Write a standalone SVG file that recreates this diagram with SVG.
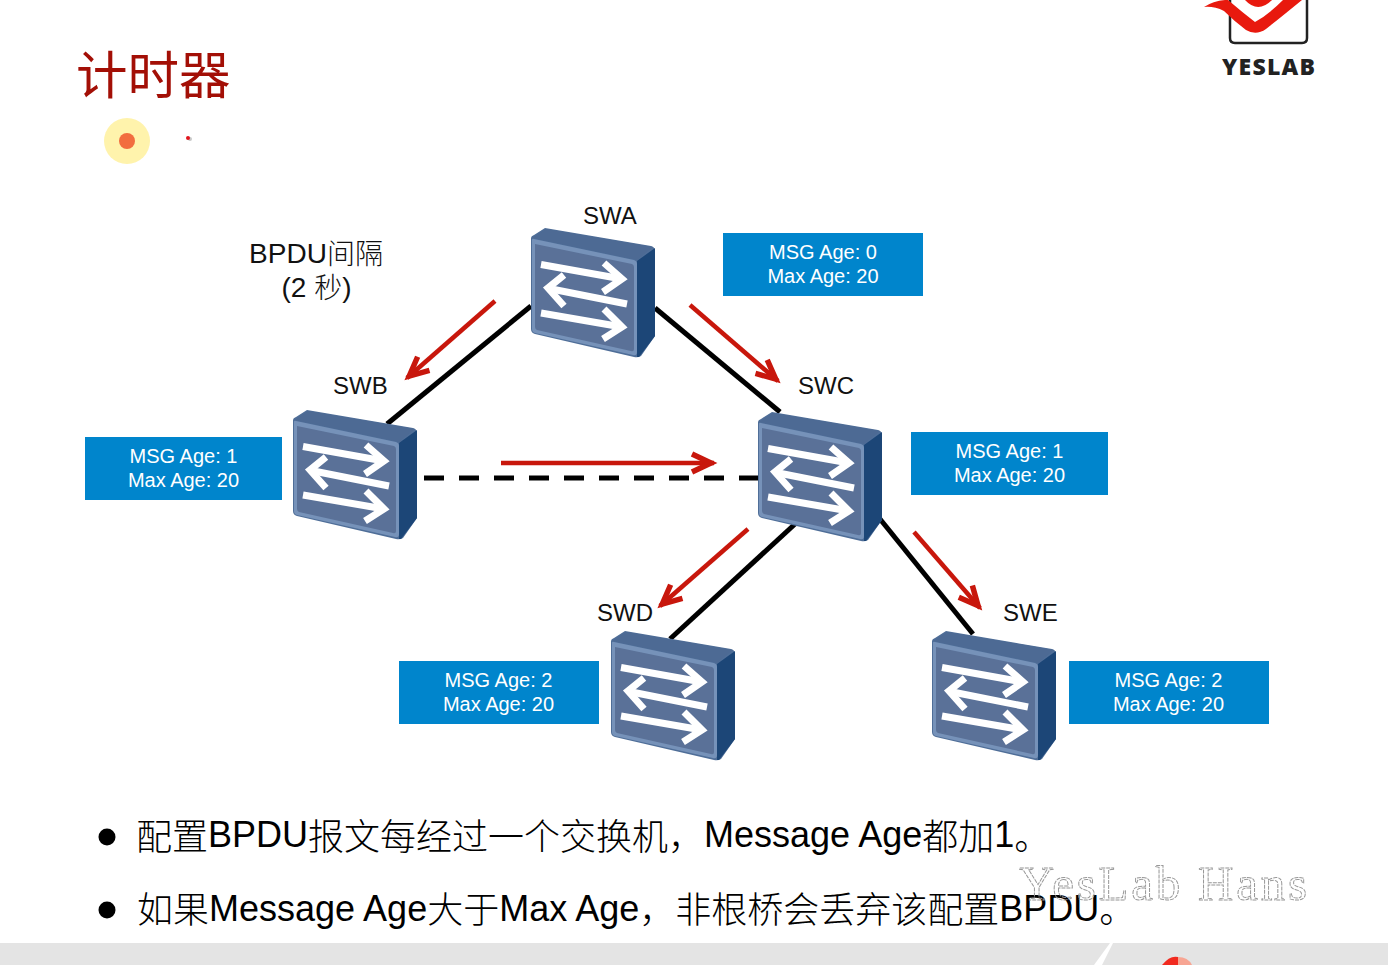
<svg xmlns="http://www.w3.org/2000/svg" width="1388" height="965" viewBox="0 0 1388 965">
<style>
.lab{font-family:"Liberation Sans",Arial,sans-serif;font-size:24px;fill:#111}
.box{fill:#0085cc}
.bt{font-family:"Liberation Sans",Arial,sans-serif;font-size:20px;fill:#fff;text-anchor:middle}
.bul{font-family:"Liberation Sans","Noto Sans CJK SC",sans-serif;font-size:36px;fill:#000;font-weight:300}
.link{stroke:#000;stroke-width:5;fill:none}
.red{stroke:#c8170c;stroke-width:4.500;fill:none}
.wa{stroke:#fff;stroke-width:7;fill:none}
</style>
<defs>
<marker id="ah" markerUnits="userSpaceOnUse" markerWidth="32" markerHeight="24" refX="24" refY="12" orient="auto">
<path d="M2 3 L21 12 L2 21" fill="none" stroke="#c8170c" stroke-width="5.500"/>
</marker>
<g id="sw">
<path d="M0 10 Q0 8 3 7 L14 0 L120 18 Q124 19 124 23 L124 108 L110 128 Q107 130 103 129 L4 106 Q0 105 0 101 Z" fill="#4f6e98"/>
<path d="M1 10 L15 1 L122 19 L106 32 Z" fill="#4d6a94"/>
<path d="M106 33 L124 20 L124 108 L108 129 L106 129 Z" fill="#1c4677"/>
<path d="M1 12 Q1 10 3 11 L103 32 Q106 33 106 36 L106 124 Q106 128 102 127 L4 105 Q1 104 1 101 Z" fill="#7692b9"/>
<path d="M4 16 L101 36 Q103 37 103 39 L103 121 Q103 124 100 123 L6 102 Q4 101 4 99 Z" fill="#5a7198"/>
<g class="wa"><path d="M10 36.500 L91 51"/><path d="M73 35 L91 51 L72 64"/><path d="M18 60.500 L96 76"/><path d="M33 47 L17 60 L33 78"/><path d="M10 85 L91 99"/><path d="M73 81 L91 99 L72 111"/></g>
</g>
</defs>
<rect width="1388" height="965" fill="#fff"/>
<g id="bg">
<rect y="943" width="1388" height="22" fill="#e4e4e4"/>
<path d="M1094 965 L1110 943 L1113 943 L1102 965 Z" fill="#fff"/>
<path d="M1162 965 Q1170 955 1178 957 L1178 965 Z" fill="#f12a1f"/>
<path d="M1178 965 L1178 957 Q1188 957 1192 965 Z" fill="#f7a593"/>
</g>
<text x="76" y="94" font-family="'Noto Sans CJK SC',sans-serif" font-size="51.500" fill="#a30f06">计时器</text>
<g id="pointer">
<circle cx="127" cy="141" r="23" fill="#fff3ac"/>
<circle cx="127" cy="141" r="8" fill="#f26d3f"/>
<circle cx="190" cy="139" r="2" fill="#c8c8c8"/>
<circle cx="188" cy="138" r="2" fill="#e0141c"/>
</g>
<g id="logo">
<path d="M1230 0 L1230 38 Q1230 43 1235 43 L1302 43 Q1307 43 1307 38 L1307 0" fill="#fff" stroke="#222" stroke-width="2.500"/>
<path d="M1204 7 Q1213 1 1225 0 L1228 0 Q1242 12 1255 22 Q1268 15 1283 0 L1302 0 Q1280 18 1266 29 Q1256 36 1246 30 Q1234 21 1224 11 Q1214 6 1204 7 Z" fill="#e8190e"/>
<path d="M1245 0 Q1258 14 1272 0 Z" fill="#e8190e"/>
<text x="1222" y="75" font-family="'Open Sans','DejaVu Sans',sans-serif" font-weight="800" font-size="23" fill="#222" textLength="93">YESLAB</text>
</g>
<g id="connectors">
<path class="link" d="M531 306 L387 424"/>
<path class="link" d="M655 308 L780 412"/>
<path class="link" d="M424 478 L758 478" stroke-dasharray="20 15"/>
<path class="link" d="M795 524 L670 639"/>
<path class="link" d="M880 519 L973 634"/>
<path class="red" d="M495 301 L407 378" marker-end="url(#ah)"/>
<path class="red" d="M690 305 L778 381" marker-end="url(#ah)"/>
<path class="red" d="M501 463 L714 463" marker-end="url(#ah)"/>
<path class="red" d="M748 529 L660 606" marker-end="url(#ah)"/>
<path class="red" d="M914 532 L980 608" marker-end="url(#ah)"/>
</g>
<g id="SWA"><use href="#sw" x="531" y="228"/><text class="lab" x="583" y="224">SWA</text></g>
<g id="SWB"><use href="#sw" x="293" y="410"/><text class="lab" x="333" y="394">SWB</text></g>
<g id="SWC"><use href="#sw" x="758" y="412"/><text class="lab" x="798" y="394">SWC</text></g>
<g id="SWD"><use href="#sw" x="611" y="631"/><text class="lab" x="597" y="621">SWD</text></g>
<g id="SWE"><use href="#sw" x="932" y="631"/><text class="lab" x="1003" y="621">SWE</text></g>
<g id="boxA"><rect class="box" x="723" y="233" width="200" height="63"/><text class="bt" x="823" y="259">MSG Age: 0</text><text class="bt" x="823" y="283">Max Age: 20</text></g>
<g id="boxB"><rect class="box" x="85" y="437" width="197" height="63"/><text class="bt" x="183.500" y="463">MSG Age: 1</text><text class="bt" x="183.500" y="487">Max Age: 20</text></g>
<g id="boxC"><rect class="box" x="911" y="432" width="197" height="63"/><text class="bt" x="1009.500" y="458">MSG Age: 1</text><text class="bt" x="1009.500" y="482">Max Age: 20</text></g>
<g id="boxD"><rect class="box" x="399" y="661" width="200" height="63"/><text class="bt" x="498.500" y="687">MSG Age: 2</text><text class="bt" x="498.500" y="711">Max Age: 20</text></g>
<g id="boxE"><rect class="box" x="1069" y="661" width="200" height="63"/><text class="bt" x="1168.500" y="687">MSG Age: 2</text><text class="bt" x="1168.500" y="711">Max Age: 20</text></g>
<g id="note" font-family="'Liberation Sans','Noto Sans CJK SC',sans-serif" font-size="28" font-weight="300" fill="#111" text-anchor="middle">
<text x="316" y="263">BPDU<tspan dy="1">间隔</tspan></text><text x="316.500" y="297">(2 <tspan dy="1">秒</tspan><tspan dy="-1">)</tspan></text>
</g>
<g id="bullets">
<circle cx="107" cy="837" r="8.500" fill="#000"/>
<circle cx="107" cy="910" r="8.500" fill="#000"/>
<text class="bul" x="136" y="847"><tspan dy="2.500">配置</tspan><tspan dy="-2.500">BPDU</tspan><tspan dy="2.500">报文每经过一个交换机，</tspan><tspan dy="-2.500">Message Age</tspan><tspan dy="2.500">都加</tspan><tspan dy="-2.500">1</tspan><tspan dy="2.500">。</tspan></text>
<text class="bul" x="137" y="921"><tspan dy="2">如果</tspan><tspan dy="-2">Message Age</tspan><tspan dy="2">大于</tspan><tspan dy="-2">Max Age</tspan><tspan dy="2">，非根桥会丢弃该配置</tspan><tspan dy="-2">BPDU</tspan><tspan dy="2">。</tspan></text>
</g>
<text id="wm" x="1019" y="900" font-family="'Liberation Serif',serif" font-size="49" fill="none" stroke="#999" stroke-width="1" stroke-dasharray="4 1" textLength="288">YesLab Hans</text>
</svg>
